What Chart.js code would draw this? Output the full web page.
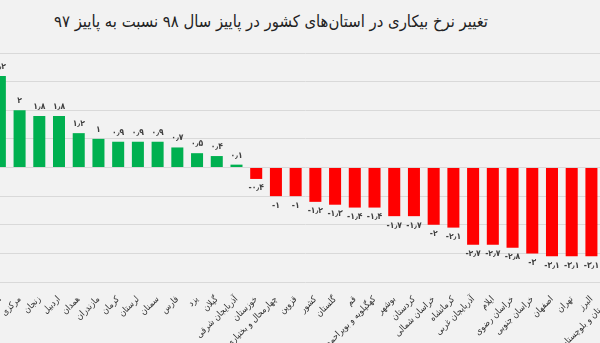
<!DOCTYPE html>
<html lang="fa">
<head>
    <meta charset="UTF-8">
    <title>تغییر نرخ بیکاری</title>
    <script src="https://cdn.jsdelivr.net/npm/chart.js"></script>
    <style>
        html, body { margin: 0; padding: 0; background: #f2f2f2; overflow: hidden; width: 600px; height: 343px; }
        #title { position: absolute; top: 12px; left: 0; width: 542px; text-align: center; font-family: "DejaVu Sans Condensed", "DejaVu Sans", sans-serif; font-size: 16.5px; color: #222; direction: rtl; }
        #wrap { position: absolute; top: 0; left: -10px; width: 631px; height: 372px; }
    </style>
</head>
<body>

<div id="title">تغییر نرخ بیکاری در استان‌های کشور در پاییز سال ۹۸ نسبت به پاییز ۹۷</div>
<div id="wrap"><canvas id="chart"></canvas></div>

<script>
const provinces = [
    "هرمزگان", "مرکزی", "زنجان", "اردبیل", "همدان", "مازندران", "کرمان", "لرستان",
    "سمنان", "فارس", "یزد", "گیلان", "آذربایجان شرقی", "خوزستان", "چهارمحال و بختیاری",
    "قزوین", "کشور", "گلستان", "قم", "کهگیلویه و بویراحمد", "بوشهر", "کردستان",
    "خراسان شمالی", "کرمانشاه", "آذربایجان غربی", "ایلام", "خراسان رضوی", "خراسان جنوبی",
    "اصفهان", "تهران", "البرز", "سیستان و بلوچستان"
];
const changes = [
    3.2, 2, 1.8, 1.8, 1.2, 1, 0.9, 0.9,
    0.9, 0.7, 0.5, 0.4, 0.1, -0.4, -1,
    -1, -1.2, -1.3, -1.4, -1.4, -1.7, -1.7,
    -2, -2.1, -2.7, -2.7, -2.8, -3,
    -3.1, -3.1, -3.1, -3.3
];

const green = "#00b050", red = "#ff0000";
const fontName = "'DejaVu Sans Condensed', 'DejaVu Sans', sans-serif";

// persian digits with arabic decimal separator
function faNum(v) {
    return String(v).replace(/\d/g, d => "۰۱۲۳۴۵۶۷۸۹"[d]).replace(".", "٫");
}

const valueLabels = {
    id: "valueLabels",
    afterDatasetsDraw(chart) {
        const ctx = chart.ctx;
        const meta = chart.getDatasetMeta(0);
        ctx.save();
        ctx.font = "bold 8.5px " + fontName;
        ctx.fillStyle = "#404040";
        ctx.textAlign = "center";
        meta.data.forEach((bar, i) => {
            const v = changes[i];
            if (v >= 0) {
                ctx.textBaseline = "bottom";
                ctx.fillText(faNum(v), bar.x, bar.y - 5);
            } else {
                ctx.textBaseline = "top";
                ctx.fillText(faNum(v), bar.x, bar.y + 5);
            }
        });
        ctx.restore();
    }
};

new Chart(document.getElementById("chart"), {
    type: "bar",
    data: {
        labels: provinces,
        datasets: [{
            data: changes,
            backgroundColor: changes.map(v => v >= 0 ? green : red),
            barPercentage: 0.61,
            categoryPercentage: 1
        }]
    },
    options: {
        responsive: true,
        maintainAspectRatio: false,
        animation: false,
        layout: { padding: { top: 53, left: 0, right: 0, bottom: 0 } },
        plugins: { legend: { display: false }, tooltip: { enabled: false } },
        scales: {
            x: {
                grid: { display: false },
                border: { display: false },
                ticks: {
                    autoSkip: false,
                    minRotation: 45,
                    maxRotation: 45,
                    padding: 4,
                    color: "#333",
                    font: { family: fontName, size: 9 }
                },
                afterFit(scale) {
                    scale.height = 90;
                    scale.paddingLeft = 0;
                    scale.paddingRight = 0;
                }
            },
            y: {
                min: -4,
                max: 4,
                ticks: { display: false, stepSize: 1 },
                border: { display: false },
                grid: { color: "#d9d9d9", drawTicks: false },
                afterFit(scale) { scale.width = 0; }
            }
        }
    },
    plugins: [valueLabels]
});
</script>

</body>
</html>
